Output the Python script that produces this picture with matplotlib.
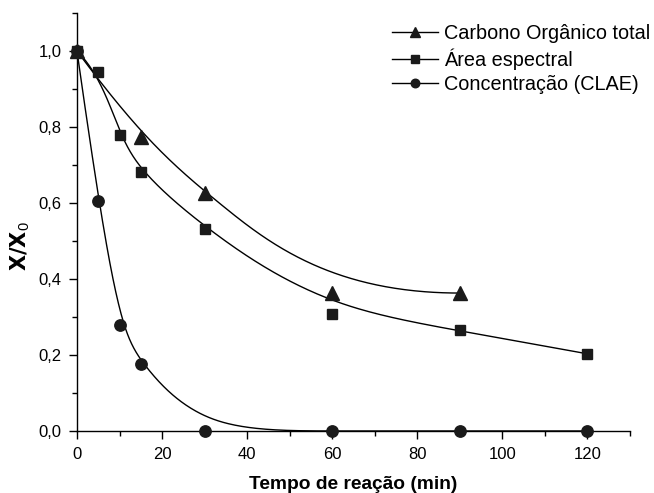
import numpy as np
import matplotlib
matplotlib.use("Agg")
import matplotlib.pyplot as plt
from matplotlib.ticker import MultipleLocator, FuncFormatter

plt.rcParams['font.family'] = ['Liberation Sans', 'DejaVu Sans']
plt.rcParams['mathtext.fontset'] = 'dejavusans'

# Data
t_cot = [0, 15, 30, 60, 90]
y_cot = [1.0, 0.774, 0.626, 0.363, 0.363]
t_area = [0, 5, 10, 15, 30, 60, 90, 120]
y_area = [1.0, 0.945, 0.779, 0.682, 0.532, 0.308, 0.266, 0.203]
t_conc = [0, 5, 10, 15, 30, 60, 90, 120]
y_conc = [1.0, 0.605, 0.279, 0.176, 0.0, 0.0, 0.0, 0.0]

labels = ["Carbono Orgânico total", "Área espectral", "Concentração (CLAE)"]


def bspline_curve(t, y, n=400, k=3):
    """Clamped uniform B-spline using the data points as control points."""
    P = np.column_stack([t, y]).astype(float)
    m = len(P)
    k = min(k, m - 1)
    nseg = m - k
    knots = np.concatenate([np.zeros(k), np.arange(nseg + 1), np.full(k, nseg)]).astype(float)
    u = np.linspace(0, nseg, n)
    u[-1] -= 1e-9
    N = np.zeros((n, len(knots) - 1))
    for i in range(len(knots) - 1):
        N[:, i] = ((u >= knots[i]) & (u < knots[i + 1])).astype(float)
    for d in range(1, k + 1):
        Nn = np.zeros((n, len(knots) - 1 - d))
        for i in range(len(knots) - 1 - d):
            a = knots[i + d] - knots[i]
            b = knots[i + d + 1] - knots[i + 1]
            t1 = (u - knots[i]) / a * N[:, i] if a > 0 else 0
            t2 = (knots[i + d + 1] - u) / b * N[:, i + 1] if b > 0 else 0
            Nn[:, i] = t1 + t2
        N = Nn
    C = N @ P
    return C[:, 0], C[:, 1]


fig = plt.figure(figsize=(6.54, 4.93), dpi=100)
ax = fig.add_axes([0.1177, 0.1258, 0.8453, 0.8478])

series = [(t_cot, y_cot, '^', 9.5), (t_area, y_area, 's', 7.5), (t_conc, y_conc, 'o', 8.2)]
for (t, y, m, ms), lab in zip(series, labels):
    cx, cy = bspline_curve(t, y)
    ax.plot(cx, cy, color='black', lw=1.0, zorder=2)
    ax.plot(t, y, linestyle='none', marker=m, ms=ms, color='#1a1a1a', zorder=3, clip_on=False)
    ax.plot([], [], color='black', lw=1.0, marker=m, ms=ms * 0.75,
            markerfacecolor='#1a1a1a', markeredgecolor='#1a1a1a', label=lab)

ax.set_xlim(0, 130)
ax.set_ylim(0, 1.1)
ax.xaxis.set_major_locator(MultipleLocator(20))
ax.xaxis.set_minor_locator(MultipleLocator(10))
ax.yaxis.set_major_locator(MultipleLocator(0.2))
ax.yaxis.set_minor_locator(MultipleLocator(0.1))
ax.yaxis.set_major_formatter(FuncFormatter(lambda v, p: f"{v:.1f}".replace('.', ',')))
ax.spines['top'].set_visible(False)
ax.spines['right'].set_visible(False)
for s in ('left', 'bottom'):
    ax.spines[s].set_linewidth(1.0)
ax.tick_params(which='major', direction='out', length=6, width=1.0, labelsize=12, colors='black')
ax.tick_params(axis='x', which='major', pad=5.5)
ax.tick_params(axis='y', which='major', pad=5)
ax.tick_params(which='minor', direction='out', length=3.5, width=1.0)

ax.set_xlabel("Tempo de reação (min)", fontsize=13.8, fontweight='bold')
ax.xaxis.set_label_coords(0.5, -0.107)
ax.set_ylabel(r"$\mathbf{X/X}_\mathregular{0}$", fontsize=15)
ax.yaxis.set_label_coords(-0.082, 0.443)

leg = fig.legend(loc='upper right', bbox_to_anchor=(1.006, 0.967), frameon=False, fontsize=14.3,
                 handlelength=2.3, handletextpad=0.3, labelspacing=0.25, borderaxespad=0.0)

fig.savefig("out.png", dpi=100)
